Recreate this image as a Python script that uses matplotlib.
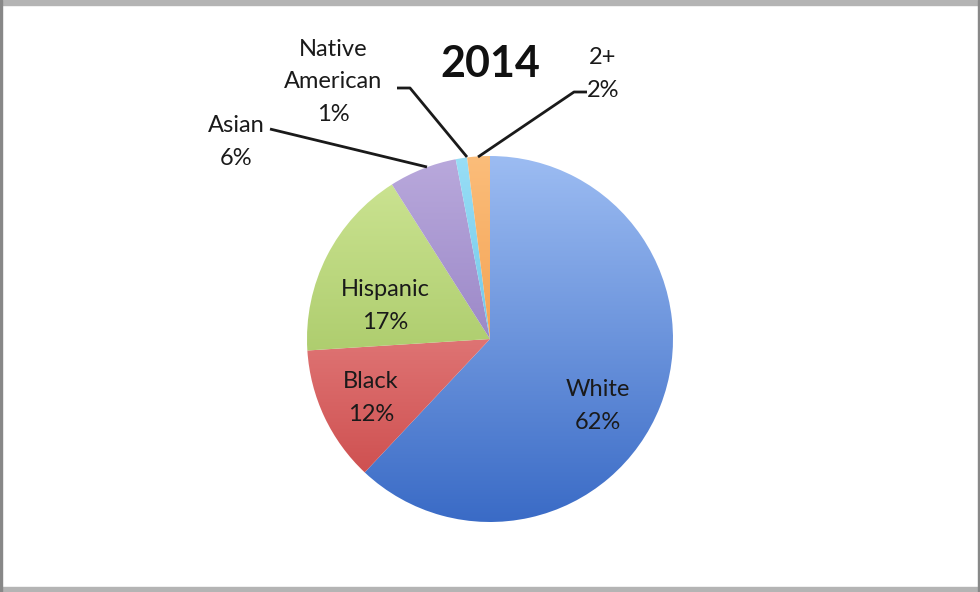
import numpy as np
import matplotlib
matplotlib.use('Agg')
import matplotlib.pyplot as plt
from matplotlib.colors import to_rgb
from matplotlib.patches import Rectangle

plt.rcParams['font.family'] = ['Lato', 'DejaVu Sans']

# data
groups = ['White', 'Black', 'Hispanic', 'Asian', 'Native\nAmerican', '2+']
shares = [62, 12, 17, 6, 1, 2]
top_colors = ['#9cbcf2', '#f4a3a3', '#cfe696', '#b9a9dc', '#98def6', '#fbbd7a']
bottom_colors = ['#3a6bc6', '#c94444', '#92b84c', '#7f68b4', '#4fb3dd', '#ee8a30']
title = '2014'

W, H = 980, 592
fig = plt.figure(figsize=(W / 100, H / 100), dpi=100)
ax = fig.add_axes([0, 0, 1, 1])

cx, cy, r = 490, H - 339, 183
wedges, _ = ax.pie(shares, startangle=90, counterclock=False,
                   center=(cx, cy), radius=r, frame=True,
                   wedgeprops=dict(linewidth=0, edgecolor='none'))
ax.set_xlim(0, W)
ax.set_ylim(0, H)
ax.axis('off')

# vertical gradient fill for each wedge
t = np.linspace(0, 1, 256)[:, None]
for w, c0, c1 in zip(wedges, top_colors, bottom_colors):
    w.set_facecolor('none')
    a, b = np.array(to_rgb(c0)), np.array(to_rgb(c1))
    img = a[None, None, :] * (1 - t[:, :, None]) + b[None, None, :] * t[:, :, None]
    im = ax.imshow(img, extent=(cx - r, cx + r, cy - r, cy + r),
                   origin='upper', aspect='auto', zorder=1)
    im.set_clip_path(w)

def py(y):
    return H - y

txt = dict(fontsize=17, color='#1a1a1a', ha='center', va='center', linespacing=1.7)

# inside labels
ax.text(598, py(406), 'White\n62%', **txt)
ax.text(371, py(398), 'Black\n12%', **txt)
ax.text(385, py(306), 'Hispanic\n17%', **txt)

# outside labels with leaders
ax.text(236, py(142), 'Asian\n6%', **txt)
ax.text(333, py(82), 'Native\nAmerican\n1%', **txt)
ax.text(603, py(74), '2+\n2%', **txt)

lc = dict(color='#1a1a1a', linewidth=2, solid_capstyle='butt')
ax.plot([270, 427], [py(129), py(167)], **lc)
ax.plot([397, 410, 467], [py(88), py(88), py(157)], **lc)
ax.plot([587, 574, 478], [py(92), py(92), py(157)], **lc)

ax.text(490, py(64), title, fontsize=31, fontweight='bold', color='#111111',
        ha='center', va='center')

# grey frame
frame = '#b4b4b4'
fig.patches.append(Rectangle((0, 0), 1, 5 / H, transform=fig.transFigure, color=frame))
fig.patches.append(Rectangle((0, 1 - 5 / H), 1, 5 / H, transform=fig.transFigure, color=frame))
fig.patches.append(Rectangle((0, 0), 2 / W, 1, transform=fig.transFigure, color='#888888'))
fig.patches.append(Rectangle((1 - 2 / W, 0), 2 / W, 1, transform=fig.transFigure, color='#888888'))

fig.savefig('out.png', dpi=100)
